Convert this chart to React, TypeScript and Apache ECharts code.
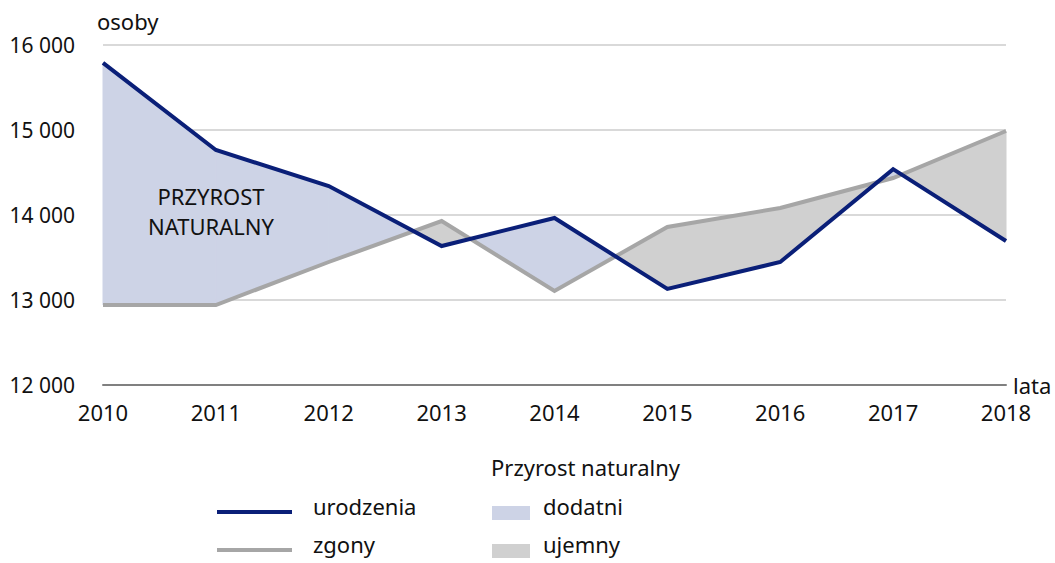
import React, { useEffect, useRef } from "react";
import * as echarts from "echarts";

const years = ["2010", "2011", "2012", "2013", "2014", "2015", "2016", "2017", "2018"];
const births = [15790, 14765, 14340, 13635, 13965, 13130, 13447, 14540, 13694];
const deaths = [12941, 12941, 13447, 13929, 13106, 13859, 14082, 14435, 14988];
const yTicks = [12000, 13000, 14000, 15000, 16000];

const NAVY = "#0a1f78";
const GRAY = "#a6a6a6";
const POS_FILL = "#cdd3e6";
const NEG_FILL = "#d0d0d0";
const FONT = "'Noto Sans', 'Open Sans', sans-serif";
const TXT = "#111111";
const FS = 22;

function makeRender(sign: number) {
  return (params: any, api: any) => {
    const i = params.dataIndex;
    if (i >= years.length - 1) return { type: "group", children: [] };
    const u0 = api.coord([i, births[i]]);
    const u1 = api.coord([i + 1, births[i + 1]]);
    const z0 = api.coord([i, deaths[i]]);
    const z1 = api.coord([i + 1, deaths[i + 1]]);
    const d0 = births[i] - deaths[i];
    const d1 = births[i + 1] - deaths[i + 1];
    const children: any[] = [];
    const col = sign > 0 ? POS_FILL : NEG_FILL;
    const style = { fill: col, stroke: col, lineWidth: 1 };
    if (d0 * sign >= 0 && d1 * sign >= 0) {
      children.push({ type: "polygon", shape: { points: [u0, u1, z1, z0] }, style });
    } else if (d0 * d1 < 0) {
      const t = d0 / (d0 - d1);
      const cx = u0[0] + (u1[0] - u0[0]) * t;
      const cy = u0[1] + (u1[1] - u0[1]) * t;
      const c = [cx, cy];
      if (d0 * sign > 0) {
        children.push({ type: "polygon", shape: { points: [u0, c, z0] }, style });
      } else {
        children.push({ type: "polygon", shape: { points: [c, u1, z1] }, style });
      }
    }
    return { type: "group", children };
  };
}

export default function App() {
  const ref = useRef<HTMLDivElement>(null);
  useEffect(() => {
    if (!ref.current) return;
    const chart = echarts.init(ref.current, undefined, { renderer: "svg" });
    const segData = years.map((_, i) => [i, births[i], deaths[i]]);
    chart.setOption({
      animation: false,
      textStyle: { fontFamily: FONT },
      grid: { left: 103, right: 49, top: 45, bottom: 178, containLabel: false },
      xAxis: {
        type: "category",
        data: years,
        boundaryGap: false,
        name: "lata",
        nameLocation: "end",
        nameGap: 7,
        nameTextStyle: { color: TXT, fontSize: FS, fontFamily: FONT, verticalAlign: "middle" },
        axisLine: { show: true, lineStyle: { color: "#808080", width: 2 } },
        axisTick: { show: false },
        axisLabel: { color: TXT, fontSize: FS, fontFamily: FONT, margin: 16 },
        splitLine: { show: false },
      },
      yAxis: {
        type: "value",
        min: yTicks[0],
        max: yTicks[yTicks.length - 1],
        interval: 1000,
        name: "osoby",
        nameLocation: "end",
        nameGap: 13,
        nameTextStyle: { color: TXT, fontSize: FS, fontFamily: FONT, align: "left", padding: [0, 0, 0, -6] },
        axisLine: { show: false },
        axisTick: { show: false },
        axisLabel: {
          color: TXT,
          fontSize: 21,
          fontFamily: FONT,
          margin: 28,
          formatter: (v: number) => String(v).replace(/(\d)(?=(\d{3})+$)/g, "$1 "),
        },
        splitLine: { show: true, lineStyle: { color: "#d9d9d9", width: 2 } },
      },
      series: [
        {
          name: "dodatni",
          type: "custom",
          renderItem: makeRender(1),
          data: segData,
          encode: { x: 0, y: [1, 2] },
          z: 1,
          silent: true,
        },
        {
          name: "ujemny",
          type: "custom",
          renderItem: makeRender(-1),
          data: segData,
          encode: { x: 0, y: [1, 2] },
          z: 1,
          silent: true,
        },
        {
          name: "zgony",
          type: "line",
          data: deaths,
          symbol: "none",
          lineStyle: { color: GRAY, width: 4, join: "miter" },
          z: 3,
        },
        {
          name: "urodzenia",
          type: "line",
          data: births,
          symbol: "none",
          lineStyle: { color: NAVY, width: 4, join: "miter" },
          z: 4,
        },
      ],
      graphic: [
        {
          type: "text",
          x: 211,
          y: 181,
          style: {
            text: "PRZYROST\nNATURALNY",
            fontSize: FS,
            fontFamily: FONT,
            fill: TXT,
            align: "center",
            verticalAlign: "top",
            lineHeight: 30,
          },
          z: 10,
        },
        {
          type: "text",
          left: 491,
          top: 456,
          style: { text: "Przyrost naturalny", fontSize: FS, fontFamily: FONT, fill: TXT },
        },
        { type: "rect", shape: { x: 217, y: 510, width: 75, height: 4 }, style: { fill: NAVY } },
        { type: "rect", shape: { x: 217, y: 548, width: 75, height: 4 }, style: { fill: GRAY } },
        { type: "text", left: 313, top: 495, style: { text: "urodzenia", fontSize: FS, fontFamily: FONT, fill: TXT } },
        { type: "text", left: 313, top: 533, style: { text: "zgony", fontSize: FS, fontFamily: FONT, fill: TXT } },
        { type: "rect", shape: { x: 492, y: 506, width: 38, height: 14 }, style: { fill: POS_FILL } },
        { type: "rect", shape: { x: 492, y: 544, width: 38, height: 14 }, style: { fill: NEG_FILL } },
        { type: "text", left: 543, top: 495, style: { text: "dodatni", fontSize: FS, fontFamily: FONT, fill: TXT } },
        { type: "text", left: 543, top: 533, style: { text: "ujemny", fontSize: FS, fontFamily: FONT, fill: TXT } },
      ],
    });
    return () => chart.dispose();
  }, []);
  return (
    <div
      ref={ref}
      style={{ position: "fixed", left: 0, top: 0, width: 1055, height: 563, background: "#fff" }}
    />
  );
}
